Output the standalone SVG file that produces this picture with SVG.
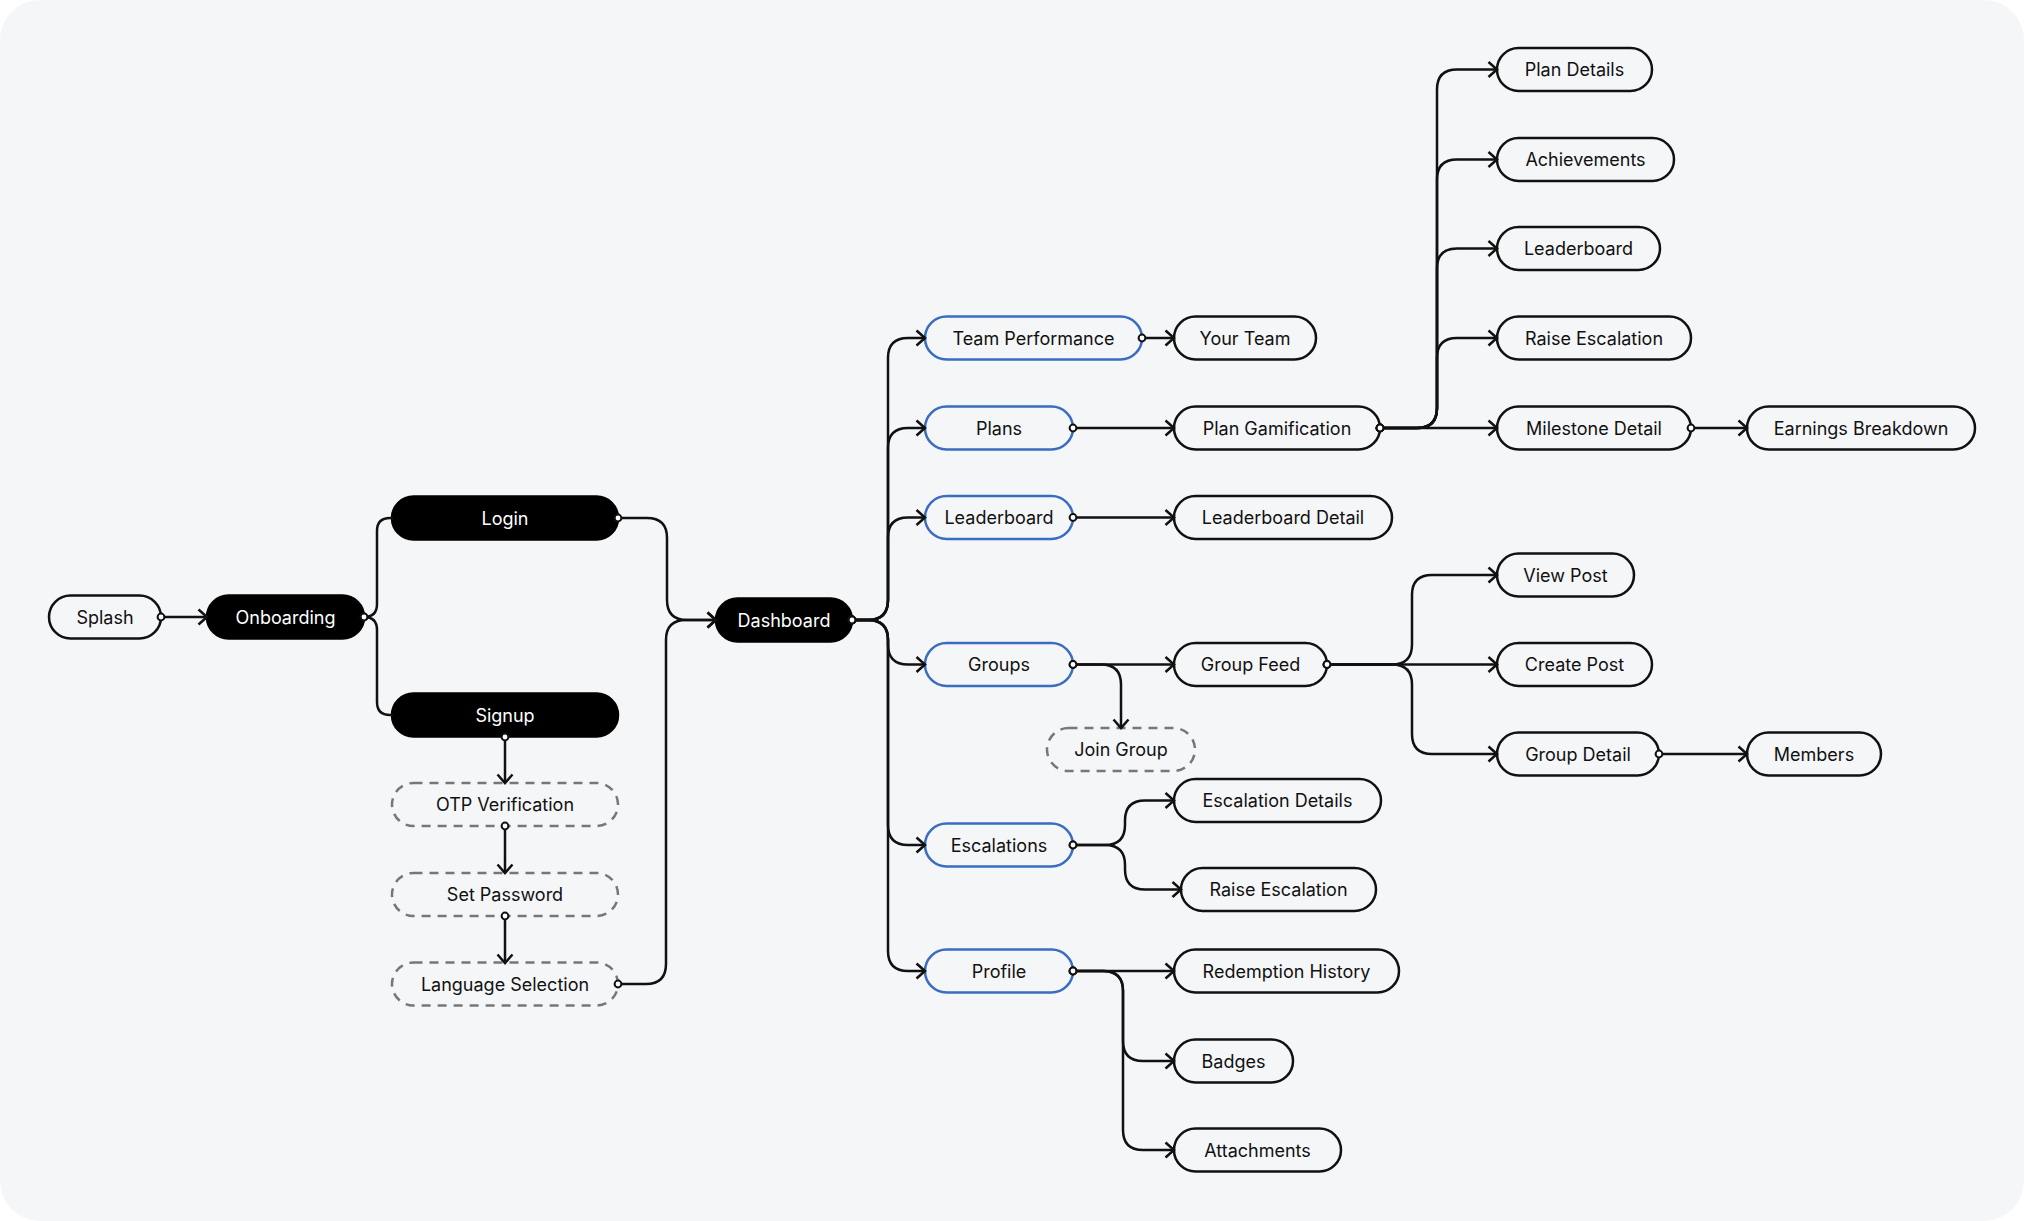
<svg xmlns="http://www.w3.org/2000/svg" width="2024" height="1221" viewBox="0 0 2024 1221">
<defs>
<style>
.n rect{fill:#f5f6f8;stroke:#111;stroke-width:2.5}
.n.b rect{stroke:#3a6cc0}
.n.k rect{fill:#000;stroke:#000}
.n.d rect{stroke:#777;stroke-dasharray:9 7}
.n text{font-family:Inter,"Liberation Sans",sans-serif;font-size:18px;fill:#111;text-anchor:middle}
.n.k text{fill:#fff}
#edges path{fill:none;stroke:#111;stroke-width:2.5}
.a{marker-end:url(#arr)}
.s{marker-start:url(#dot)}
</style>
<marker id="arr" markerUnits="userSpaceOnUse" markerWidth="14" markerHeight="20" viewBox="-10 -10 14 20" refX="0" refY="0" orient="auto" overflow="visible">
<path d="M-8.5,-7.5 L0,0 L-8.5,7.5" fill="none" stroke="#111" stroke-width="2.5" stroke-linejoin="miter"/>
</marker>
<marker id="dot" markerUnits="userSpaceOnUse" markerWidth="10" markerHeight="10" viewBox="-5 -5 10 10" refX="0" refY="0" orient="auto" overflow="visible">
<circle r="3.4" fill="#fff" stroke="#111" stroke-width="2"/>
</marker>
</defs>
<rect width="2024" height="1221" fill="#fff"/>
<rect width="2024" height="1221" rx="40" fill="#f5f6f8"/>
<g id="splash" class="n"><rect x="49" y="595.5" width="112" height="43" rx="21.5"/><text x="105" y="623.5">Splash</text></g>
<g id="onboarding" class="n k"><rect x="207" y="595.5" width="157" height="43" rx="21.5"/><text x="285.5" y="623.5">Onboarding</text></g>
<g id="login" class="n k"><rect x="392" y="496.5" width="226" height="43" rx="21.5"/><text x="505" y="524.5">Login</text></g>
<g id="signup" class="n k"><rect x="392" y="693.5" width="226" height="43" rx="21.5"/><text x="505" y="721.5">Signup</text></g>
<g id="otp" class="n d"><rect x="392" y="783" width="226" height="43" rx="21.5"/><text x="505" y="811">OTP Verification</text></g>
<g id="setpassword" class="n d"><rect x="392" y="873" width="226" height="43" rx="21.5"/><text x="505" y="901">Set Password</text></g>
<g id="language" class="n d"><rect x="392" y="962.5" width="226" height="43" rx="21.5"/><text x="505" y="990.5">Language Selection</text></g>
<g id="dashboard" class="n k"><rect x="716" y="598.5" width="136" height="43" rx="21.5"/><text x="784" y="626.5">Dashboard</text></g>
<g id="teamperformance" class="n b"><rect x="925" y="316.5" width="217" height="43" rx="21.5"/><text x="1033.5" y="344.5">Team Performance</text></g>
<g id="plans" class="n b"><rect x="925" y="406.5" width="148" height="43" rx="21.5"/><text x="999" y="434.5">Plans</text></g>
<g id="leaderboard" class="n b"><rect x="925" y="496" width="148" height="43" rx="21.5"/><text x="999" y="524">Leaderboard</text></g>
<g id="groups" class="n b"><rect x="925" y="643" width="148" height="43" rx="21.5"/><text x="999" y="671">Groups</text></g>
<g id="escalations" class="n b"><rect x="925" y="823.5" width="148" height="43" rx="21.5"/><text x="999" y="851.5">Escalations</text></g>
<g id="profile" class="n b"><rect x="925" y="949.5" width="148" height="43" rx="21.5"/><text x="999" y="977.5">Profile</text></g>
<g id="yourteam" class="n"><rect x="1174" y="316.5" width="142" height="43" rx="21.5"/><text x="1245" y="344.5">Your Team</text></g>
<g id="plangamification" class="n"><rect x="1174" y="406.5" width="206" height="43" rx="21.5"/><text x="1277" y="434.5">Plan Gamification</text></g>
<g id="leaderboarddetail" class="n"><rect x="1174" y="496" width="218" height="43" rx="21.5"/><text x="1283" y="524">Leaderboard Detail</text></g>
<g id="groupfeed" class="n"><rect x="1174" y="643" width="153" height="43" rx="21.5"/><text x="1250.5" y="671">Group Feed</text></g>
<g id="joingroup" class="n d"><rect x="1047" y="728" width="148" height="43" rx="21.5"/><text x="1121" y="756">Join Group</text></g>
<g id="escalationdetails" class="n"><rect x="1174" y="779" width="207" height="43" rx="21.5"/><text x="1277.5" y="807">Escalation Details</text></g>
<g id="raiseescalation2" class="n"><rect x="1181" y="868" width="195" height="43" rx="21.5"/><text x="1278.5" y="896">Raise Escalation</text></g>
<g id="redemptionhistory" class="n"><rect x="1174" y="949.5" width="225" height="43" rx="21.5"/><text x="1286.5" y="977.5">Redemption History</text></g>
<g id="badges" class="n"><rect x="1174" y="1039.5" width="119" height="43" rx="21.5"/><text x="1233.5" y="1067.5">Badges</text></g>
<g id="attachments" class="n"><rect x="1174" y="1128.5" width="167" height="43" rx="21.5"/><text x="1257.5" y="1156.5">Attachments</text></g>
<g id="plandetails" class="n"><rect x="1497" y="48" width="155" height="43" rx="21.5"/><text x="1574.5" y="76">Plan Details</text></g>
<g id="achievements" class="n"><rect x="1497" y="138" width="177" height="43" rx="21.5"/><text x="1585.5" y="166">Achievements</text></g>
<g id="leaderboard2" class="n"><rect x="1497" y="227" width="163" height="43" rx="21.5"/><text x="1578.5" y="255">Leaderboard</text></g>
<g id="raiseescalation" class="n"><rect x="1497" y="316.5" width="194" height="43" rx="21.5"/><text x="1594" y="344.5">Raise Escalation</text></g>
<g id="milestonedetail" class="n"><rect x="1497" y="406.5" width="194" height="43" rx="21.5"/><text x="1594" y="434.5">Milestone Detail</text></g>
<g id="earningsbreakdown" class="n"><rect x="1747" y="406.5" width="228" height="43" rx="21.5"/><text x="1861" y="434.5">Earnings Breakdown</text></g>
<g id="viewpost" class="n"><rect x="1497" y="553.5" width="137" height="43" rx="21.5"/><text x="1565.5" y="581.5">View Post</text></g>
<g id="createpost" class="n"><rect x="1497" y="643" width="155" height="43" rx="21.5"/><text x="1574.5" y="671">Create Post</text></g>
<g id="groupdetail" class="n"><rect x="1497" y="732.5" width="162" height="43" rx="21.5"/><text x="1578" y="760.5">Group Detail</text></g>
<g id="members" class="n"><rect x="1747" y="732.5" width="134" height="43" rx="21.5"/><text x="1814" y="760.5">Members</text></g>
<g id="edges">
<path class="a s" d="M161 617 H207"/>
<path class="s" d="M364 617 Q377 617 377 604 V531 Q377 518 390 518 H393"/>
<path class="s" d="M364 617 Q377 617 377 630 V702 Q377 715 390 715 H393"/>
<path class="a s" d="M618 518 H647 Q667 518 667 538 V600 Q667 620 687 620 H716"/>
<path class="a s" d="M618 984 H646 Q666 984 666 964 V640 Q666 620 686 620 H716"/>
<path class="a s" d="M505 737 V783"/>
<path class="a s" d="M505 826 V873"/>
<path class="a s" d="M505 916 V963"/>
<path class="a s" d="M852 620 H868 Q888 620 888 600 V358 Q888 338 908 338 H925"/>
<path class="a s" d="M852 620 H868 Q888 620 888 600 V448 Q888 428 908 428 H925"/>
<path class="a s" d="M852 620 H868 Q888 620 888 600 V537.5 Q888 517.5 908 517.5 H925"/>
<path class="a s" d="M852 620 H868 Q888 620 888 640 V644.5 Q888 664.5 908 664.5 H925"/>
<path class="a s" d="M852 620 H868 Q888 620 888 640 V825 Q888 845 908 845 H925"/>
<path class="a s" d="M852 620 H868 Q888 620 888 640 V951 Q888 971 908 971 H925"/>
<path class="a s" d="M1142 338 H1174"/>
<path class="a s" d="M1073 428 H1174"/>
<path class="a s" d="M1073 517.5 H1174"/>
<path class="a s" d="M1073 664.5 H1174"/>
<path class="a s" d="M1073 664.5 H1101 Q1121 664.5 1121 684.5 V728"/>
<path class="a s" d="M1073 845 H1105 Q1125 845 1125 825 V820.5 Q1125 800.5 1145 800.5 H1174"/>
<path class="a s" d="M1073 845 H1105 Q1125 845 1125 865 V869.5 Q1125 889.5 1145 889.5 H1181"/>
<path class="a s" d="M1073 971 H1174"/>
<path class="a s" d="M1073 971 H1103 Q1123 971 1123 991 V1041 Q1123 1061 1143 1061 H1174"/>
<path class="a s" d="M1073 971 H1103 Q1123 971 1123 991 V1130 Q1123 1150 1143 1150 H1174"/>
<path class="a s" d="M1380 428 H1497"/>
<path class="a s" d="M1380 428 H1417 Q1437 428 1437 408 V89.5 Q1437 69.5 1457 69.5 H1497"/>
<path class="a s" d="M1380 428 H1417 Q1437 428 1437 408 V179.5 Q1437 159.5 1457 159.5 H1497"/>
<path class="a s" d="M1380 428 H1417 Q1437 428 1437 408 V268.5 Q1437 248.5 1457 248.5 H1497"/>
<path class="a s" d="M1380 428 H1417 Q1437 428 1437 408 V358 Q1437 338 1457 338 H1497"/>
<path class="a s" d="M1691 428 H1747"/>
<path class="a s" d="M1327 664.5 H1392 Q1412 664.5 1412 644.5 V595 Q1412 575 1432 575 H1497"/>
<path class="a s" d="M1327 664.5 H1497"/>
<path class="a s" d="M1327 664.5 H1392 Q1412 664.5 1412 684.5 V734 Q1412 754 1432 754 H1497"/>
<path class="a s" d="M1659 754 H1747"/>
</g>
</svg>
